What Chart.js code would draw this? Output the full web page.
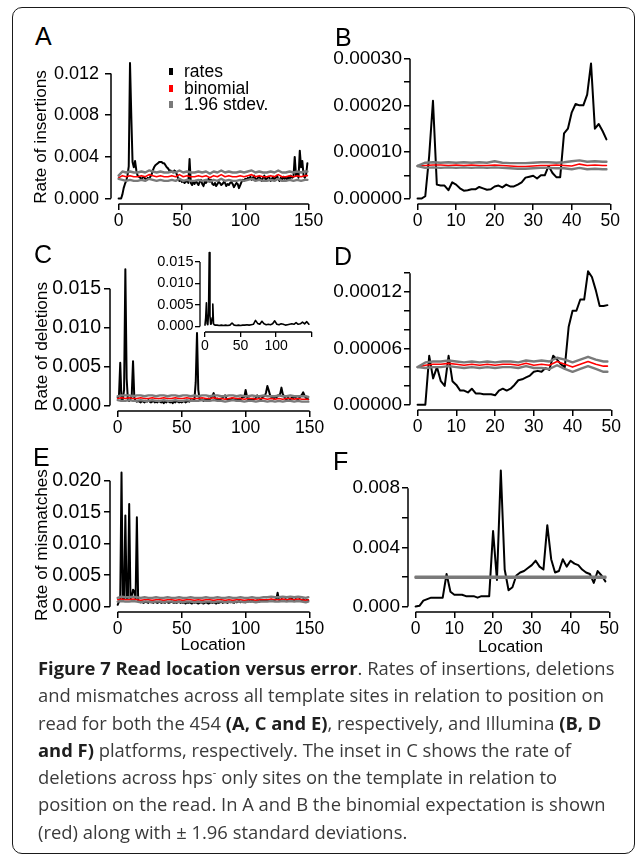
<!DOCTYPE html>
<html>
<head>
<meta charset="utf-8">
<script src="https://cdn.jsdelivr.net/npm/chart.js@4.4.1/dist/chart.umd.min.js"></script>
<style>
  html, body { margin: 0; padding: 0; background: #fff; }
  #fig { position: relative; width: 637px; height: 858px; overflow: hidden; background: #fff; }
  #frame { position: absolute; left: 12px; top: 7px; width: 623px; height: 847px; box-sizing: border-box;
           border: 1.5px solid #1a1a1a; border-radius: 10px; }
  canvas { position: absolute; }
  .tag { position: absolute; font: 25px/25px "Liberation Sans", Arial, sans-serif; color: #000; }
  .key { position: absolute; width: 4px; height: 7px; }
  .keytxt { position: absolute; font: 17.5px/18px "Liberation Sans", Arial, sans-serif; color: #000; white-space: nowrap; }
  #caption { position: absolute; left: 38px; top: 654px; font-family: "Open Sans", sans-serif; font-size: 18.4px;
             line-height: 27.3px; color: #3a3a3a; white-space: nowrap; }
  #caption b { color: #1e1e1e; }
  #caption sup { font-size: 0.6em; line-height: 0; vertical-align: 0.7em; }
</style>
</head>
<body>
<div id="fig">
  <div id="frame"></div>
  <canvas id="chartA"></canvas>
  <canvas id="chartB"></canvas>
  <canvas id="chartC"></canvas>
  <canvas id="chartInset"></canvas>
  <canvas id="chartD"></canvas>
  <canvas id="chartE"></canvas>
  <canvas id="chartF"></canvas>

  <div class="tag" style="left:35px;top:24px">A</div>
  <div class="tag" style="left:335px;top:25px">B</div>
  <div class="tag" style="left:34px;top:242px">C</div>
  <div class="tag" style="left:334px;top:244px">D</div>
  <div class="tag" style="left:33px;top:445px">E</div>
  <div class="tag" style="left:333px;top:449px">F</div>

  <div class="key" style="left:169px;top:68px;background:#000"></div>
  <div class="keytxt" style="left:184px;top:62px">rates</div>
  <div class="key" style="left:169px;top:85px;background:#ff0000"></div>
  <div class="keytxt" style="left:184px;top:79px">binomial</div>
  <div class="key" style="left:169px;top:101px;background:#7a7a7a"></div>
  <div class="keytxt" style="left:184px;top:95px">1.96 stdev.</div>

  <div id="caption"><b>Figure 7 Read location versus error</b>. Rates of insertions, deletions<br>and mismatches across all template sites in relation to position on<br>read for both the 454 <b>(A, C and E)</b>, respectively, and Illumina <b>(B, D</b><br><b>and F)</b> platforms, respectively. The inset in C shows the rate of<br>deletions across hps<sup>-</sup> only sites on the template in relation to<br>position on the read. In A and B the binomial expectation is shown<br>(red) along with ± 1.96 standard deviations.</div>
</div>

<script>
// 454 reads: one value per location 0..149 ; binomial curves sampled every 3 locations
const loc454 = [0, 3, 6, 9, 12, 15, 18, 21, 24, 27, 30, 33, 36, 39, 42, 45, 48, 51, 54, 57,
  60, 63, 66, 69, 72, 75, 78, 81, 84, 87, 90, 93, 96, 99, 102, 105, 108, 111, 114, 117,
  120, 123, 126, 129, 132, 135, 138, 141, 144, 147, 149];
// Illumina reads: one value per location 0..49 ; binomial curves sampled every 2 locations
const locIll = [0, 2, 4, 6, 8, 10, 12, 14, 16, 18, 20, 22, 24, 26, 28, 30, 32, 34, 36, 38,
  40, 42, 44, 46, 48, 49];

// A - insertions, 454
const rateA = [
  0, 0, 0, 0.0004, 0.0010, 0.0014, 0.0017, 0.0022, 0.0031, 0.0130,
  0.0080, 0.0035, 0.0030, 0.0036, 0.0027, 0.0022, 0.0021, 0.0020, 0.0019, 0.0020,
  0.0021, 0.0019, 0.0018, 0.0020, 0.0019, 0.0021, 0.0023, 0.0027, 0.0030, 0.0032,
  0.0033, 0.0034, 0.0035, 0.0035, 0.0035, 0.0034, 0.0034, 0.0032, 0.0030, 0.0029,
  0.0027, 0.0027, 0.0026, 0.0025, 0.0027, 0.0026, 0.0023, 0.0019, 0.0017, 0.0018,
  0.0016, 0.0017, 0.0015, 0.0016, 0.0018, 0.0015, 0.0038, 0.0015, 0.0013, 0.0016,
  0.0014, 0.0017, 0.0015, 0.0013, 0.0016, 0.0018, 0.0014, 0.0012, 0.0016, 0.0015,
  0.0017, 0.0019, 0.0016, 0.0018, 0.0014, 0.0013, 0.0015, 0.0012, 0.0014, 0.0016,
  0.0015, 0.0013, 0.0014, 0.0016, 0.0015, 0.0012, 0.0014, 0.0013, 0.0015, 0.0016,
  0.0014, 0.0011, 0.0013, 0.0015, 0.0014, 0.0010, 0.0013, 0.0016, 0.0018, 0.0017,
  0.0019, 0.0018, 0.0020, 0.0019, 0.0021, 0.0018, 0.0020, 0.0022, 0.0019, 0.0018,
  0.0020, 0.0021, 0.0019, 0.0017, 0.0020, 0.0022, 0.0018, 0.0019, 0.0021, 0.0020,
  0.0017, 0.0019, 0.0021, 0.0018, 0.0020, 0.0022, 0.0019, 0.0017, 0.0020, 0.0018,
  0.0021, 0.0019, 0.0020, 0.0018, 0.0021, 0.0019, 0.0022, 0.0020, 0.0021, 0.0040,
  0.0022, 0.0024, 0.0020, 0.0046, 0.0030, 0.0036, 0.0022, 0.0020, 0.0023, 0.0034];
const binomA = [
  0.0020, 0.0022, 0.0021, 0.0022, 0.0021, 0.0021, 0.0022, 0.0021, 0.0023, 0.0022,
  0.0021, 0.0022, 0.0021, 0.0021, 0.0022, 0.0021, 0.0023, 0.0021, 0.0022, 0.0021,
  0.0021, 0.0022, 0.0021, 0.0022, 0.0020, 0.0022, 0.0021, 0.0023, 0.0021, 0.0022,
  0.0021, 0.0021, 0.0022, 0.0021, 0.0022, 0.0023, 0.0021, 0.0022, 0.0021, 0.0021,
  0.0022, 0.0021, 0.0023, 0.0021, 0.0021, 0.0022, 0.0021, 0.0022, 0.0021, 0.0022, 0.0022];
const upperA = [
  0.0022, 0.0026, 0.0025, 0.0026, 0.0025, 0.0025, 0.0026, 0.0025, 0.0027, 0.0026,
  0.0025, 0.0026, 0.0025, 0.0025, 0.0026, 0.0025, 0.0027, 0.0025, 0.0026, 0.0025,
  0.0025, 0.0026, 0.0025, 0.0026, 0.0024, 0.0026, 0.0025, 0.0027, 0.0025, 0.0026,
  0.0025, 0.0025, 0.0026, 0.0025, 0.0026, 0.0027, 0.0025, 0.0026, 0.0025, 0.0025,
  0.0026, 0.0025, 0.0027, 0.0025, 0.0025, 0.0026, 0.0025, 0.0026, 0.0025, 0.0026, 0.0026];
const lowerA = [
  0.0019, 0.0018, 0.0017, 0.0018, 0.0017, 0.0017, 0.0018, 0.0017, 0.0019, 0.0018,
  0.0017, 0.0018, 0.0017, 0.0017, 0.0018, 0.0017, 0.0019, 0.0017, 0.0018, 0.0017,
  0.0017, 0.0018, 0.0017, 0.0018, 0.0016, 0.0018, 0.0017, 0.0019, 0.0017, 0.0018,
  0.0017, 0.0017, 0.0018, 0.0017, 0.0018, 0.0019, 0.0017, 0.0018, 0.0017, 0.0017,
  0.0018, 0.0017, 0.0019, 0.0017, 0.0017, 0.0018, 0.0017, 0.0018, 0.0017, 0.0018, 0.0018];

// B - insertions, Illumina
const rateB = [
  0, 0, 0.000005, 0.00009, 0.00021, 0.00003, 0.000028, 0.000028, 0.000018, 0.000035,
  0.00003, 0.000022, 0.000017, 0.000018, 0.00002, 0.00002, 0.000025, 0.000022, 0.000019, 0.00002,
  0.000026, 0.000028, 0.000024, 0.00003, 0.000026, 0.000026, 0.00003, 0.000035, 0.000045, 0.000047,
  0.000049, 0.000043, 0.00005, 0.00005, 0.00007, 0.000055, 0.000046, 0.000046, 0.00014, 0.00015,
  0.000185, 0.000203, 0.0002, 0.0002, 0.000223, 0.00029, 0.00015, 0.00016, 0.000145, 0.000127];
const binomB = [
  0.000070, 0.000071, 0.000072, 0.000072, 0.000071, 0.000072, 0.000071, 0.000072, 0.000071, 0.000071,
  0.000072, 0.000071, 0.000070, 0.000069, 0.000069, 0.000070, 0.000071, 0.000071, 0.000072, 0.000071,
  0.000070, 0.000074, 0.000071, 0.000072, 0.000071, 0.000071];
const upperB = [
  0.000070, 0.000077, 0.000078, 0.000077, 0.000078, 0.000077, 0.000078, 0.000077, 0.000078, 0.000077,
  0.000080, 0.000077, 0.000076, 0.000076, 0.000076, 0.000077, 0.000078, 0.000078, 0.000077, 0.000078,
  0.000080, 0.000082, 0.000079, 0.000080, 0.000079, 0.000079];
const lowerB = [
  0.000070, 0.000066, 0.000067, 0.000066, 0.000067, 0.000066, 0.000067, 0.000066, 0.000067, 0.000066,
  0.000067, 0.000066, 0.000065, 0.000064, 0.000064, 0.000065, 0.000066, 0.000066, 0.000065, 0.000065,
  0.000063, 0.000066, 0.000063, 0.000064, 0.000063, 0.000063];

// C - deletions, 454
const rateC = [
  0.0010, 0.0012, 0.0055, 0.0006, 0.0008, 0.0020, 0.0175, 0.0035, 0.0007, 0.0006,
  0.0008, 0.0014, 0.0057, 0.0010, 0.0006, 0.0005, 0.0006, 0.0005, 0.0004, 0.0006,
  0.0005, 0.0004, 0.0006, 0.0005, 0.0007, 0.0005, 0.0004, 0.0005, 0.0006, 0.0004,
  0.0005, 0.0004, 0.0006, 0.0005, 0.0004, 0.0005, 0.0003, 0.0005, 0.0004, 0.0006,
  0.0005, 0.0004, 0.0005, 0.0003, 0.0005, 0.0004, 0.0006, 0.0005, 0.0004, 0.0005,
  0.0004, 0.0005, 0.0006, 0.0004, 0.0005, 0.0006, 0.0005, 0.0007, 0.0006, 0.0007,
  0.0008, 0.0030, 0.0093, 0.0020, 0.0008, 0.0007, 0.0008, 0.0006, 0.0007, 0.0008,
  0.0007, 0.0009, 0.0008, 0.0010, 0.0012, 0.0016, 0.0010, 0.0008, 0.0009, 0.0007,
  0.0008, 0.0009, 0.0010, 0.0012, 0.0013, 0.0009, 0.0008, 0.0007, 0.0008, 0.0009,
  0.0008, 0.0007, 0.0008, 0.0006, 0.0008, 0.0009, 0.0008, 0.0010, 0.0011, 0.0011,
  0.0020, 0.0012, 0.0008, 0.0009, 0.0007, 0.0008, 0.0009, 0.0008, 0.0010, 0.0013,
  0.0011, 0.0009, 0.0008, 0.0010, 0.0012, 0.0012, 0.0017, 0.0025, 0.0020, 0.0014,
  0.0011, 0.0010, 0.0009, 0.0011, 0.0010, 0.0013, 0.0013, 0.0015, 0.0023, 0.0015,
  0.0012, 0.0009, 0.0008, 0.0010, 0.0009, 0.0008, 0.0010, 0.0009, 0.0011, 0.0010,
  0.0009, 0.0008, 0.0010, 0.0012, 0.0014, 0.0017, 0.0013, 0.0010, 0.0009, 0.0008];
const binomC = [
  0.0009, 0.0010, 0.0009, 0.0010, 0.0009, 0.0009, 0.0010, 0.0009, 0.0009, 0.0010,
  0.0009, 0.0009, 0.0010, 0.0009, 0.0009, 0.0010, 0.0009, 0.0009, 0.0010, 0.0009,
  0.0009, 0.0009, 0.0010, 0.0009, 0.0009, 0.0010, 0.0009, 0.0009, 0.0008, 0.0009,
  0.0010, 0.0009, 0.0009, 0.0008, 0.0009, 0.0009, 0.0008, 0.0009, 0.0009, 0.0008,
  0.0009, 0.0008, 0.0009, 0.0008, 0.0009, 0.0009, 0.0008, 0.0009, 0.0008, 0.0008, 0.0008];
const upperC = [
  0.0012, 0.0013, 0.0013, 0.0013, 0.0012, 0.0013, 0.0013, 0.0012, 0.0013, 0.0013,
  0.0012, 0.0013, 0.0013, 0.0012, 0.0013, 0.0013, 0.0012, 0.0013, 0.0013, 0.0012,
  0.0013, 0.0012, 0.0013, 0.0013, 0.0012, 0.0013, 0.0013, 0.0012, 0.0012, 0.0013,
  0.0013, 0.0012, 0.0013, 0.0012, 0.0012, 0.0013, 0.0012, 0.0012, 0.0013, 0.0012,
  0.0012, 0.0012, 0.0013, 0.0012, 0.0012, 0.0013, 0.0012, 0.0012, 0.0012, 0.0012, 0.0011];
const lowerC = [
  0.0007, 0.0006, 0.0006, 0.0007, 0.0006, 0.0006, 0.0007, 0.0006, 0.0006, 0.0007,
  0.0006, 0.0006, 0.0007, 0.0006, 0.0006, 0.0007, 0.0006, 0.0006, 0.0007, 0.0006,
  0.0006, 0.0006, 0.0007, 0.0006, 0.0006, 0.0007, 0.0006, 0.0006, 0.0005, 0.0006,
  0.0007, 0.0006, 0.0006, 0.0005, 0.0006, 0.0006, 0.0005, 0.0006, 0.0006, 0.0005,
  0.0006, 0.0005, 0.0006, 0.0005, 0.0006, 0.0006, 0.0005, 0.0006, 0.0005, 0.0005, 0.0005];

// C inset - deletions at hps- only sites
const insetLoc = [0, 1, 2, 3, 4, 5, 6, 7, 8, 9, 10, 11, 12, 13, 14,
  17, 20, 23, 26, 29, 32, 35, 38, 41, 44, 47, 50, 53, 56, 59, 62, 65, 68, 71, 74,
  77, 80, 83, 86, 89, 92, 95, 98, 101, 104, 107, 110, 113, 116, 119, 122, 125, 128, 131, 134,
  137, 140, 143, 146];
const insetRate = [
  0.0003, 0.0020, 0.0055, 0.0006, 0.0004, 0.0030, 0.0172, 0.0025, 0.0005, 0.0006,
  0.0020, 0.0052, 0.0006, 0.0004, 0.0003,
  0.0003, 0.0002, 0.0003, 0.0002, 0.0003, 0.0002, 0.0003, 0.0008, 0.0003, 0.0002,
  0.0003, 0.0002, 0.0003, 0.0003, 0.0004, 0.0003, 0.0004, 0.0005, 0.0014, 0.0007,
  0.0005, 0.0012, 0.0006, 0.0004, 0.0005, 0.0004, 0.0006, 0.0013, 0.0005, 0.0004,
  0.0006, 0.0005, 0.0003, 0.0004, 0.0005, 0.0006, 0.0005, 0.0009, 0.0005, 0.0006,
  0.0010, 0.0006, 0.0011, 0.0005];

// D - deletions, Illumina
const rateD = [
  0, 0, 0, 0.000052, 0.000028, 0.00004, 0.000025, 0.00002, 0.000052, 0.000025,
  0.000021, 0.000015, 0.000015, 0.000013, 0.000017, 0.000012, 0.000012, 0.000011, 0.000011, 0.000011,
  0.00001, 0.000015, 0.000017, 0.000015, 0.000017, 0.000021, 0.000026, 0.000027, 0.000029, 0.000031,
  0.000035, 0.000036, 0.000035, 0.000039, 0.000037, 0.000052, 0.000048, 0.000043, 0.00004, 0.000083,
  0.0001, 0.0001, 0.000112, 0.000112, 0.000142, 0.000136, 0.000122, 0.000105, 0.000105, 0.000106];
const binomD = [
  0.000040, 0.000042, 0.000043, 0.000043, 0.000044, 0.000043, 0.000042, 0.000043, 0.000042, 0.000043,
  0.000042, 0.000043, 0.000043, 0.000042, 0.000044, 0.000042, 0.000043, 0.000042, 0.000046, 0.000043,
  0.000040, 0.000043, 0.000046, 0.000043, 0.000041, 0.000041];
const upperD = [
  0.000040, 0.000045, 0.000046, 0.000046, 0.000047, 0.000046, 0.000045, 0.000046, 0.000045, 0.000046,
  0.000045, 0.000046, 0.000046, 0.000045, 0.000047, 0.000046, 0.000047, 0.000046, 0.000050, 0.000048,
  0.000045, 0.000048, 0.000051, 0.000048, 0.000046, 0.000046];
const lowerD = [
  0.000040, 0.000039, 0.000040, 0.000040, 0.000041, 0.000040, 0.000039, 0.000040, 0.000039, 0.000040,
  0.000039, 0.000040, 0.000040, 0.000039, 0.000041, 0.000039, 0.000039, 0.000038, 0.000042, 0.000038,
  0.000035, 0.000038, 0.000041, 0.000038, 0.000035, 0.000035];

// E - mismatches, 454
const rateE = [
  0.0003, 0.0008, 0.0012, 0.0213, 0.0011, 0.0013, 0.0145, 0.0012, 0.0014, 0.0163,
  0.0013, 0.0016, 0.0027, 0.0024, 0.0012, 0.0142, 0.0010, 0.0008, 0.0007, 0.0008,
  0.0006, 0.0007, 0.0008, 0.0007, 0.0006, 0.0008, 0.0007, 0.0007, 0.0006, 0.0008,
  0.0007, 0.0006, 0.0007, 0.0008, 0.0006, 0.0007, 0.0007, 0.0006, 0.0008, 0.0007,
  0.0006, 0.0007, 0.0008, 0.0007, 0.0006, 0.0007, 0.0006, 0.0007, 0.0008, 0.0006,
  0.0007, 0.0006, 0.0007, 0.0005, 0.0007, 0.0006, 0.0007, 0.0006, 0.0005, 0.0007,
  0.0006, 0.0007, 0.0006, 0.0005, 0.0006, 0.0007, 0.0006, 0.0005, 0.0006, 0.0007,
  0.0006, 0.0005, 0.0006, 0.0007, 0.0006, 0.0007, 0.0006, 0.0005, 0.0007, 0.0006,
  0.0007, 0.0008, 0.0006, 0.0007, 0.0008, 0.0007, 0.0006, 0.0008, 0.0007, 0.0008,
  0.0007, 0.0006, 0.0008, 0.0007, 0.0008, 0.0009, 0.0007, 0.0008, 0.0009, 0.0008,
  0.0007, 0.0009, 0.0008, 0.0009, 0.0008, 0.0009, 0.0010, 0.0008, 0.0009, 0.0010,
  0.0009, 0.0008, 0.0010, 0.0009, 0.0010, 0.0009, 0.0011, 0.0010, 0.0009, 0.0010,
  0.0011, 0.0010, 0.0009, 0.0011, 0.0012, 0.0022, 0.0011, 0.0010, 0.0012, 0.0011,
  0.0010, 0.0012, 0.0011, 0.0010, 0.0012, 0.0011, 0.0013, 0.0011, 0.0010, 0.0012,
  0.0011, 0.0010, 0.0012, 0.0011, 0.0010, 0.0012, 0.0010, 0.0009, 0.0011, 0.0010];
const binomE = [
  0.0011, 0.0012, 0.0011, 0.0011, 0.0012, 0.0011, 0.0010, 0.0011, 0.0011, 0.0010,
  0.0011, 0.0011, 0.0010, 0.0011, 0.0011, 0.0010, 0.0011, 0.0010, 0.0011, 0.0011,
  0.0010, 0.0011, 0.0010, 0.0011, 0.0011, 0.0010, 0.0011, 0.0011, 0.0010, 0.0011,
  0.0010, 0.0011, 0.0011, 0.0010, 0.0011, 0.0011, 0.0010, 0.0011, 0.0011, 0.0011,
  0.0012, 0.0011, 0.0011, 0.0012, 0.0011, 0.0012, 0.0011, 0.0012, 0.0011, 0.0010, 0.0011];
const upperE = [
  0.0014, 0.0016, 0.0015, 0.0015, 0.0016, 0.0015, 0.0014, 0.0015, 0.0014, 0.0014,
  0.0015, 0.0014, 0.0014, 0.0015, 0.0014, 0.0014, 0.0015, 0.0014, 0.0014, 0.0015,
  0.0014, 0.0014, 0.0014, 0.0015, 0.0014, 0.0014, 0.0015, 0.0014, 0.0014, 0.0015,
  0.0014, 0.0014, 0.0015, 0.0014, 0.0014, 0.0015, 0.0014, 0.0014, 0.0015, 0.0015,
  0.0016, 0.0015, 0.0015, 0.0016, 0.0015, 0.0016, 0.0015, 0.0016, 0.0015, 0.0014, 0.0015];
const lowerE = [
  0.0008, 0.0009, 0.0008, 0.0008, 0.0009, 0.0008, 0.0007, 0.0008, 0.0008, 0.0007,
  0.0008, 0.0008, 0.0007, 0.0008, 0.0008, 0.0007, 0.0008, 0.0007, 0.0008, 0.0008,
  0.0007, 0.0008, 0.0007, 0.0008, 0.0008, 0.0007, 0.0008, 0.0008, 0.0007, 0.0008,
  0.0007, 0.0008, 0.0008, 0.0007, 0.0008, 0.0008, 0.0007, 0.0008, 0.0008, 0.0008,
  0.0009, 0.0008, 0.0008, 0.0009, 0.0008, 0.0009, 0.0008, 0.0009, 0.0008, 0.0007, 0.0008];

// F - mismatches, Illumina
const rateF = [
  0, 0.00005, 0.0004, 0.0005, 0.0006, 0.0006, 0.0006, 0.0006, 0.0022, 0.0010,
  0.0008, 0.0008, 0.0008, 0.0007, 0.0007, 0.0007, 0.0006, 0.0007, 0.0007, 0.0007,
  0.0051, 0.0018, 0.0092, 0.0025, 0.0011, 0.0013, 0.0021, 0.0023, 0.0024, 0.0026,
  0.0028, 0.0031, 0.0027, 0.0025, 0.0055, 0.0032, 0.0023, 0.0024, 0.0032, 0.0027,
  0.0031, 0.0029, 0.0028, 0.0025, 0.0023, 0.0022, 0.0016, 0.0024, 0.0021, 0.0017];
const binomF = [
  0.00198, 0.00198, 0.00199, 0.00198, 0.00198, 0.00199, 0.00198, 0.00198, 0.00199, 0.00198,
  0.00198, 0.00199, 0.00198, 0.00198, 0.00199, 0.00198, 0.00198, 0.00199, 0.00198, 0.00198,
  0.00199, 0.00198, 0.00198, 0.00199, 0.00198, 0.00198];
const upperF = [
  0.00201, 0.00202, 0.00202, 0.00201, 0.00202, 0.00202, 0.00201, 0.00202, 0.00202, 0.00201,
  0.00202, 0.00202, 0.00201, 0.00202, 0.00202, 0.00201, 0.00202, 0.00202, 0.00201, 0.00202,
  0.00202, 0.00201, 0.00202, 0.00202, 0.00201, 0.00202];
const lowerF = [
  0.00195, 0.00195, 0.00196, 0.00195, 0.00195, 0.00196, 0.00195, 0.00195, 0.00196, 0.00195,
  0.00195, 0.00196, 0.00195, 0.00195, 0.00196, 0.00195, 0.00195, 0.00196, 0.00195, 0.00195,
  0.00196, 0.00195, 0.00195, 0.00196, 0.00195, 0.00195];

// tick values and their labels ('' = tick without label)
const xTicks454 = [0, 50, 100, 150];
const xLabels454 = ['0', '50', '100', '150'];
const xTicksIll = [0, 10, 20, 30, 40, 50];
const xLabelsIll = ['0', '10', '20', '30', '40', '50'];
const xLabelsInset = ['0', '50', '100', ''];
const yTicksA = [0, 0.004, 0.008, 0.012];
const yLabelsA = ['0.000', '0.004', '0.008', '0.012'];
const yTicksB = [0, 0.00005, 0.0001, 0.00015, 0.0002, 0.00025, 0.0003];
const yLabelsB = ['0.00000', '', '0.00010', '', '0.00020', '', '0.00030'];
const yTicksC = [0, 0.005, 0.010, 0.015];
const yLabelsC = ['0.000', '0.005', '0.010', '0.015'];
const yTicksD = [0, 0.00002, 0.00004, 0.00006, 0.00008, 0.0001, 0.00012, 0.00014];
const yLabelsD = ['0.00000', '', '', '0.00006', '', '', '0.00012', ''];
const yTicksE = [0, 0.005, 0.010, 0.015, 0.020];
const yLabelsE = ['0.000', '0.005', '0.010', '0.015', '0.020'];
const yTicksF = [0, 0.002, 0.004, 0.006, 0.008];
const yLabelsF = ['0.000', '', '0.004', '', '0.008'];

const FAMILY = "'Liberation Sans', Arial, Helvetica, sans-serif";
Chart.defaults.font.family = FAMILY;
Chart.defaults.color = '#000';

// R style axes: the axis line runs only from the first to the last tick
const rAxes = {
  id: 'rAxes',
  afterDraw(chart, args, opts) {
    const { ctx, chartArea: a, scales: { x, y } } = chart;
    const xt = x.ticks, yt = y.ticks;
    ctx.save();
    ctx.strokeStyle = '#000';
    ctx.lineWidth = opts.width || 1.5;
    ctx.beginPath();
    ctx.moveTo(x.getPixelForValue(xt[0].value), a.bottom);
    ctx.lineTo(x.getPixelForValue(xt[xt.length - 1].value), a.bottom);
    ctx.moveTo(a.left, y.getPixelForValue(yt[0].value));
    ctx.lineTo(a.left, y.getPixelForValue(yt[yt.length - 1].value));
    ctx.stroke();
    ctx.restore();
  }
};

function line(xs, ys, color, width, order) {
  return {
    data: ys.map((v, i) => ({ x: xs ? xs[i] : i, y: v })),
    borderColor: color, borderWidth: width, order: order,
    pointRadius: 0, tension: 0, fill: false, clip: false,
    borderJoinStyle: 'round', borderCapStyle: 'round'
  };
}

function makePanel(id, g, datasets) {
  const kx = (g.xPx[1] - g.xPx[0]) / (g.xVal[1] - g.xVal[0]);
  const ky = (g.yPx[1] - g.yPx[0]) / (g.yVal[1] - g.yVal[0]);
  const left = Math.round(g.xPx[0] + (g.xRange[0] - g.xVal[0]) * kx);
  const right = Math.round(g.xPx[0] + (g.xRange[1] - g.xVal[0]) * kx);
  const top = Math.round(g.yPx[0] + (g.yRange[1] - g.yVal[0]) * ky);
  const bottom = Math.round(g.yPx[0] + (g.yRange[0] - g.yVal[0]) * ky);

  const canvas = document.getElementById(id);
  const cLeft = left - g.yW, cTop = top - g.padTop;
  canvas.width = g.yW + (right - left) + g.padRight;
  canvas.height = g.padTop + (bottom - top) + g.xH;
  canvas.style.left = cLeft + 'px';
  canvas.style.top = cTop + 'px';

  const titleSize = g.titleSize || 17.2;
  const yTitle = g.yTitle
    ? { display: true, text: g.yTitle, color: '#000', font: { size: titleSize },
        padding: { top: g.yTitleX - cLeft - titleSize * 0.6, bottom: 0 } }
    : { display: false };
  const xTitle = g.xTitle
    ? { display: true, text: g.xTitle, color: '#000', font: { size: titleSize },
        padding: { top: 0, bottom: (bottom + g.xH) - g.xTitleY - titleSize * 0.6 } }
    : { display: false };

  return new Chart(canvas, {
    type: 'line',
    data: { datasets },
    options: {
      responsive: false,
      animation: false,
      events: [],
      layout: { padding: { top: g.padTop, right: g.padRight, left: 0, bottom: 0 } },
      plugins: { legend: { display: false }, tooltip: { enabled: false }, rAxes: { width: g.lw } },
      scales: {
        x: {
          type: 'linear', min: g.xRange[0], max: g.xRange[1],
          afterFit: s => { s.height = g.xH; },
          afterBuildTicks: s => { s.ticks = g.xTicks.map(v => ({ value: v })); },
          ticks: { autoSkip: false, maxRotation: 0, minRotation: 0, padding: g.xPad, color: '#000',
                   font: { size: g.xFont }, callback: (v, i) => g.xLabels[i] },
          grid: { drawOnChartArea: false, drawTicks: true, tickLength: g.tl, color: '#000', lineWidth: g.lw },
          border: { display: false },
          title: xTitle
        },
        y: {
          type: 'linear', min: g.yRange[0], max: g.yRange[1],
          afterFit: s => { s.width = g.yW; },
          afterBuildTicks: s => { s.ticks = g.yTicks.map(v => ({ value: v })); },
          ticks: { autoSkip: false, padding: g.yPad, color: '#000',
                   font: { size: g.yFont }, callback: (v, i) => g.yLabels[i] },
          grid: { drawOnChartArea: false, drawTicks: true, tickLength: g.tl, color: '#000', lineWidth: g.lw },
          border: { display: false },
          title: yTitle
        }
      }
    },
    plugins: [rAxes]
  });
}

const BLACK = '#000000', RED = '#ff0000', GREY = '#7a7a7a';

function bandSets(locs, rate, binom, upper, lower) {
  return [
    line(null, rate, BLACK, 2, 2),
    line(locs, binom, RED, 1.6, 1),
    line(locs, upper, GREY, 2.4, 0),
    line(locs, lower, GREY, 2.4, 0)
  ];
}

const base454 = { xVal: [0, 150], xRange: [-6, 155], xTicks: xTicks454, xLabels: xLabels454,
  yW: 90, xH: 30, padTop: 20, padRight: 24, tl: 6, lw: 1.5, xFont: 17.5, xPad: 0.5, yPad: 3 };
const baseIll = { xVal: [0, 50], xRange: [-1.96, 50.96], xTicks: xTicksIll, xLabels: xLabelsIll,
  yW: 84, xH: 30, padTop: 16, padRight: 20, tl: 6, lw: 1.5, xFont: 17.5, xPad: 0.5, yPad: 2 };

let chartA, chartB, chartC, chartInset, chartD, chartE, chartF;

chartA = makePanel('chartA', Object.assign({}, base454, {
  xPx: [118.3, 309], yPx: [198.3, 73.3], yVal: [0, 0.012], yRange: [-0.00052, 0.01234],
  yTicks: yTicksA, yLabels: yLabelsA, yFont: 18, yPad: 6,
  yTitle: 'Rate of insertions', yTitleX: 41.5
}), bandSets(loc454, rateA, binomA, upperA, lowerA));

chartB = makePanel('chartB', Object.assign({}, baseIll, {
  xPx: [417.7, 610], yPx: [198.3, 58.3], yVal: [0, 0.0003], yRange: [-0.0000116, 0.0003016],
  yTicks: yTicksB, yLabels: yLabelsB, yFont: 19
}), bandSets(locIll, rateB, binomB, upperB, lowerB));

chartC = makePanel('chartC', Object.assign({}, base454, {
  xPx: [117.7, 309.3], yPx: [405.7, 289], yVal: [0, 0.015], yRange: [-0.0007, 0.01586],
  yTicks: yTicksC, yLabels: yLabelsC, yFont: 19.5,
  yTitle: 'Rate of deletions', yTitleX: 42
}), bandSets(loc454, rateC, binomC, upperC, lowerC));

chartInset = makePanel('chartInset', {
  xPx: [205, 276], xVal: [0, 100], xRange: [-7, 156], xTicks: xTicks454, xLabels: xLabelsInset,
  yPx: [326.7, 261.7], yVal: [0, 0.015], yRange: [-0.0013, 0.0182],
  yTicks: yTicksC, yLabels: yLabelsC,
  yW: 52, xH: 24, padTop: 10, padRight: 14, tl: 5, lw: 1.3, xFont: 14, yFont: 14.5, xPad: 0.5, yPad: 1.5
}, [line(insetLoc, insetRate, BLACK, 1.6, 0)]);

chartD = makePanel('chartD', Object.assign({}, baseIll, {
  xPx: [417.7, 611.7], yPx: [405, 292.3], yVal: [0, 0.00012], yRange: [-0.0000057, 0.0001477],
  yTicks: yTicksD, yLabels: yLabelsD, yFont: 19
}), bandSets(locIll, rateD, binomD, upperD, lowerD));

chartE = makePanel('chartE', Object.assign({}, base454, {
  xPx: [117.7, 309.3], yPx: [606.7, 480.7], yVal: [0, 0.02], yRange: [-0.00085, 0.02044],
  yTicks: yTicksE, yLabels: yLabelsE, yFont: 19.5, xH: 50,
  yTitle: 'Rate of mismatches', yTitleX: 42,
  xTitle: 'Location', xTitleY: 645
}), bandSets(loc454, rateE, binomE, upperE, lowerE));

chartF = makePanel('chartF', Object.assign({}, baseIll, {
  xPx: [415.7, 609.3], yPx: [606.7, 488.3], yVal: [0, 0.008], yRange: [-0.00037, 0.00957],
  yTicks: yTicksF, yLabels: yLabelsF, yFont: 19, xH: 50,
  xTitle: 'Location', xTitleY: 647
}), bandSets(locIll, rateF, binomF, upperF, lowerF));
</script>
</body>
</html>
